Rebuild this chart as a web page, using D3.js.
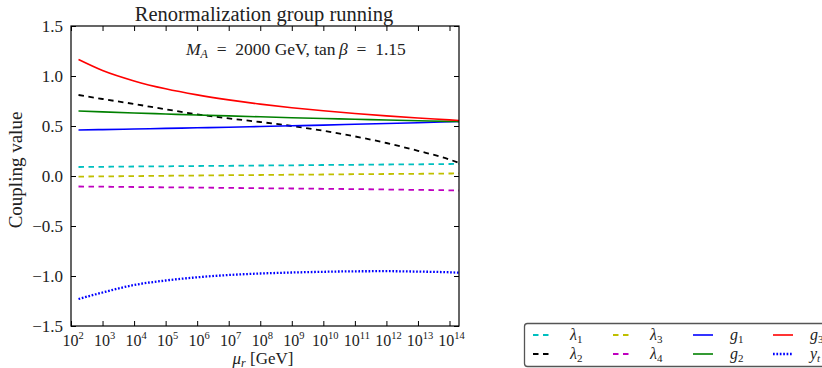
<!DOCTYPE html>
<html>
<head>
<meta charset="utf-8">
<title>Renormalization group running</title>
<script src="https://d3js.org/d3.v7.min.js"></script>
<style>
  body { margin: 0; background: #fff; }
  svg { display: block; }
  text { font-family: "Liberation Serif", "DejaVu Serif", serif; fill: #222; }
</style>
</head>
<body>
<svg id="chart" width="822" height="368"></svg>
<script>
// renormalization scale (GeV) and running couplings
var mu = [173, 1e3, 1e4, 1e5, 1e6, 1e7, 1e8, 1e9, 1e10, 1e11, 1e12, 1e13, 1e14, 2e14];
var lambda1 = [0.090, 0.092, 0.095, 0.097, 0.100, 0.102, 0.105, 0.107, 0.110, 0.112, 0.115, 0.117, 0.120, 0.121];
var lambda2 = [0.810, 0.770, 0.720, 0.667, 0.617, 0.576, 0.540, 0.500, 0.452, 0.396, 0.330, 0.252, 0.165, 0.130];
var lambda3 = [-0.006, -0.004, -0.001, 0.002, 0.005, 0.008, 0.010, 0.013, 0.015, 0.018, 0.020, 0.022, 0.025, 0.026];
var lambda4 = [-0.105, -0.107, -0.110, -0.113, -0.116, -0.119, -0.122, -0.125, -0.128, -0.131, -0.135, -0.139, -0.143, -0.145];
var g1 = [0.460, 0.464, 0.470, 0.476, 0.482, 0.488, 0.495, 0.502, 0.509, 0.517, 0.525, 0.533, 0.542, 0.545];
var g2 = [0.650, 0.641, 0.630, 0.620, 0.610, 0.601, 0.592, 0.583, 0.575, 0.568, 0.560, 0.553, 0.546, 0.544];
var g3 = [1.165, 1.055, 0.951, 0.872, 0.811, 0.761, 0.719, 0.683, 0.652, 0.625, 0.601, 0.580, 0.561, 0.555];
var yt = [-1.230, -1.165, -1.090, -1.045, -1.013, -0.990, -0.975, -0.965, -0.958, -0.953, -0.952, -0.956, -0.963, -0.967];

var xTickExp = [2, 3, 4, 5, 6, 7, 8, 9, 10, 11, 12, 13, 14];
var yTicks = [-1.5, -1.0, -0.5, 0.0, 0.5, 1.0, 1.5];

var series = [
  {sym: "λ", sub: "1", values: lambda1, color: "#00bfbf", dash: "5.5,4.5", width: 1.8},
  {sym: "λ", sub: "2", values: lambda2, color: "#000000", dash: "5.5,4.5", width: 1.8},
  {sym: "λ", sub: "3", values: lambda3, color: "#bfbf00", dash: "5.5,4.5", width: 1.8},
  {sym: "λ", sub: "4", values: lambda4, color: "#bf00bf", dash: "5.5,4.5", width: 1.8},
  {sym: "g", sub: "1", values: g1, color: "#0000ff", dash: null, width: 1.6},
  {sym: "g", sub: "2", values: g2, color: "#008000", dash: null, width: 1.6},
  {sym: "g", sub: "3", values: g3, color: "#ff0000", dash: null, width: 1.6},
  {sym: "y", sub: "t", values: yt, color: "#0000ff", dash: "1.7,1.7", width: 2.3}
];

var svg = d3.select("#chart");
var plotL = 71, plotR = 459, plotT = 26, plotB = 326;

var x = d3.scaleLog().domain([1e2, 2e14]).range([plotL, plotR]);
var y = d3.scaleLinear().domain([-1.5, 1.5]).range([plotB, plotT]);

// curves
var line = d3.line()
    .x(function(d) { return x(d[0]); })
    .y(function(d) { return y(d[1]); })
    .curve(d3.curveMonotoneX);

series.forEach(function(s) {
    var pts = mu.map(function(m, i) { return [m, s.values[i]]; });
    svg.append("path")
        .datum(pts)
        .attr("d", line)
        .attr("fill", "none")
        .attr("stroke", s.color)
        .attr("stroke-width", s.width)
        .attr("stroke-dasharray", s.dash);
});

// axes: ticks point inward on all four sides
var xVals = xTickExp.map(function(e) { return Math.pow(10, e); });
svg.append("g").attr("transform", "translate(0," + plotB + ")")
    .call(d3.axisBottom(x).tickValues(xVals).tickSize(-5).tickFormat(""));
svg.append("g").attr("transform", "translate(0," + plotT + ")")
    .call(d3.axisTop(x).tickValues(xVals).tickSize(-5).tickFormat(""));
svg.append("g").attr("transform", "translate(" + plotL + ",0)")
    .call(d3.axisLeft(y).tickValues(yTicks).tickSize(-5).tickFormat(""));
svg.append("g").attr("transform", "translate(" + plotR + ",0)")
    .call(d3.axisRight(y).tickValues(yTicks).tickSize(-5).tickFormat(""));
svg.selectAll(".domain").remove();
svg.selectAll(".tick line").attr("stroke", "#000").attr("stroke-width", 1);

svg.append("rect")
    .attr("x", plotL).attr("y", plotT)
    .attr("width", plotR - plotL).attr("height", plotB - plotT)
    .attr("fill", "none").attr("stroke", "#000").attr("stroke-width", 1.2);

// tick labels
xTickExp.forEach(function(e) {
    var t = svg.append("text")
        .attr("x", x(Math.pow(10, e)) + 2)
        .attr("y", 346)
        .attr("text-anchor", "middle")
        .style("font-size", "16px");
    t.append("tspan").text("10");
    t.append("tspan").attr("dy", -7).style("font-size", "10.5px").text(e);
});

yTicks.forEach(function(v) {
    svg.append("text")
        .attr("x", 63)
        .attr("y", y(v) + 5.5)
        .attr("text-anchor", "end")
        .style("font-size", "17px")
        .text(v < 0 ? "\u2212" + Math.abs(v).toFixed(1) : v.toFixed(1));
});

// titles
svg.append("text")
    .attr("x", 264).attr("y", 21)
    .attr("text-anchor", "middle")
    .style("font-size", "20.5px")
    .text("Renormalization group running");

var ann = svg.append("text")
    .attr("x", 186).attr("y", 55)
    .style("font-size", "17.5px");
ann.append("tspan").style("font-style", "italic").text("M");
ann.append("tspan").attr("dy", 3).style("font-size", "12px").style("font-style", "italic").text("A");
ann.append("tspan").attr("dy", -3).text("\u2002=\u20022000 GeV, tan\u2009");
ann.append("tspan").style("font-style", "italic").text("β");
ann.append("tspan").text("\u2002=\u20021.15");

var xl = svg.append("text")
    .attr("x", 263).attr("y", 363.5)
    .attr("text-anchor", "middle")
    .style("font-size", "17px");
xl.append("tspan").style("font-style", "italic").text("μ");
xl.append("tspan").attr("dy", 3).style("font-size", "12px").style("font-style", "italic").text("r");
xl.append("tspan").attr("dy", -3).text(" [GeV]");

svg.append("text")
    .attr("transform", "translate(22,170) rotate(-90)")
    .attr("text-anchor", "middle")
    .style("font-size", "19px")
    .text("Coupling value");

// legend, filled column by column
var lg = svg.append("g");
lg.append("rect")
    .attr("x", 524.5).attr("y", 323.5)
    .attr("width", 310).attr("height", 43)
    .attr("rx", 3)
    .attr("fill", "#fff").attr("stroke", "#555").attr("stroke-width", 1.3);

series.forEach(function(s, i) {
    var col = Math.floor(i / 2), row = i % 2;
    var hx = 533 + col * 80, hy = 335 + row * 19;
    lg.append("line")
        .attr("x1", hx).attr("x2", hx + 20)
        .attr("y1", hy).attr("y2", hy)
        .attr("stroke", s.color)
        .attr("stroke-width", s.width)
        .attr("stroke-dasharray", s.dash);
    var t = lg.append("text")
        .attr("x", hx + 37).attr("y", hy + 4.5)
        .style("font-size", "16px");
    t.append("tspan").style("font-style", "italic").text(s.sym);
    t.append("tspan").attr("dy", 3).style("font-size", "11px")
        .style("font-style", s.sub === "t" ? "italic" : "normal").text(s.sub);
});
</script>
</body>
</html>
